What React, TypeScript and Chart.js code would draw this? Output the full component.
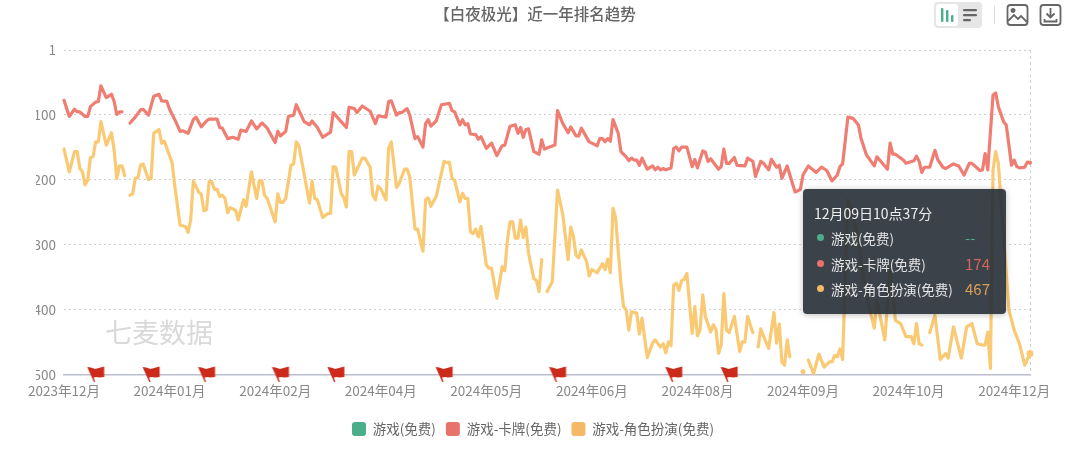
import React, { useEffect, useRef } from 'react';
import { Chart, registerables } from 'chart.js';

Chart.register(...registerables);

const FONT = '"Noto Sans CJK SC", "Noto Sans", sans-serif';

const chartTitle = '【白夜极光】近一年排名趋势';
const seriesNames = ['游戏(免费)', '游戏-卡牌(免费)', '游戏-角色扮演(免费)'];
const seriesColors = ['#4bae8a', '#ef7d72', '#fac973'];
const legendColors = ['#4bae8a', '#e8736a', '#f4b866'];

const rankTicks = [1, 100, 200, 300, 400, 500];
const dayTicks = [0, 40, 80, 120, 160, 200, 240, 280, 320, 360];
const dayTickLabels = ['2023年12月', '2024年01月', '2024年02月', '2024年04月', '2024年05月', '2024年06月', '2024年08月', '2024年09月', '2024年10月', '2024年12月'];
const lastDay = 366;

// days since 2023-12-09 that carry a release flag
const flagDays = [12, 33, 54, 82, 103, 144, 187, 231, 252];

// [day, rank], null rank = no data that day
const gameRanks: [number, number | null][] = [];

const cardRanks: [number, number | null][] = [
  [0, 78], [2, 103], [4, 92], [5, 96], [6, 96], [8, 103], [9, 103], [10, 88], [12, 81], [13, 80], [14, 56], [16, 74], [18, 69], [19, 80], [20, 100], [21, 96], [22, 96], [23, null],
  [25, 113], [27, 104], [29, 93], [30, 92], [32, 101], [34, 72], [36, 69], [37, 79], [39, 80], [40, 92], [42, 108], [44, 126], [45, 125], [47, 129], [49, 108], [50, 104], [52, 119], [54, 110], [55, 107], [58, 107], [59, 120], [60, 121], [62, 137],
  [64, 135], [66, 138], [67, 124], [69, 126], [71, 110], [73, 122], [75, 113], [77, 121], [80, 143], [81, 126], [82, 133], [84, 126], [85, 103], [87, 101], [88, 85], [91, 111], [93, 116], [94, 110], [96, 120], [98, 135], [101, 127], [102, 97], [105, 111], [107, 120], [108, 89], [110, 91], [111, 97], [113, 87], [116, 95], [118, 114], [119, 102], [122, 104], [123, 80], [124, 79],
  [126, 101], [127, 97], [128, 97], [130, 91], [131, 101], [133, 137], [134, 134], [136, 150], [137, 114], [138, 108], [139, 118], [141, 110], [143, 85], [146, 83], [147, 94], [148, 96], [150, 116], [151, 108], [152, 116], [153, 114], [154, 130], [156, 131], [157, 138], [158, 134], [160, 152], [162, 144], [164, 163], [166, 148], [167, 147], [169, 118], [171, 116], [172, 129], [173, 120], [174, 135], [175, 123], [176, 122], [178, 157], [180, 161], [181, 139], [182, 153], [184, 150], [186, 147], [187, 94],
  [189, 114], [191, 128], [192, 119], [194, 133], [195, 133], [196, 121], [199, 142], [200, 144], [202, 148], [203, 137], [204, 137], [205, 142], [206, 137], [207, 141], [208, 108], [210, 129], [211, 157], [213, 165], [214, 171], [215, 167], [216, 170], [217, 170], [218, 178], [219, 167], [221, 184], [223, 179], [224, 185], [225, 181], [226, 185], [227, 183], [228, 185], [230, 182], [231, 152], [232, 150], [233, 156], [234, 150], [236, 150], [238, 180], [239, 169], [240, 182], [242, 156], [243, 158], [244, 172], [245, 168], [248, 184], [249, 180], [250, 153],
  [251, 175], [252, 175], [254, 166], [255, 178], [258, 179], [259, 167], [261, 172], [262, 195], [264, 172], [265, 175], [267, 185], [268, 169], [270, 181], [271, 178], [272, 198], [274, 179], [277, 219], [279, 215], [280, 193], [282, 179], [285, 189], [287, 181], [289, 186], [291, 202], [293, 193], [294, 180], [295, 176], [297, 104], [299, 106], [301, 116], [302, 137], [304, 162], [307, 179], [308, 165], [312, 184], [313, 144], [314, 161], [315, 161], [318, 170], [319, 175], [322, 171], [323, 164], [324, 172], [325, 189], [326, 181], [328, 181], [330, 155], [331, 169], [333, 181], [334, 183], [337, 176], [339, 179], [341, 193], [343, 175], [344, 175], [347, 186], [348, 185], [349, 160], [350, 185], [352, 70], [353, 67], [354, 88], [356, 111], [357, 116], [359, 178], [360, 170], [361, 180], [362, 182], [364, 181], [365, 173], [366, 174],
];

const rpgRanks: [number, number | null][] = [
  [0, 153], [2, 188], [4, 157], [5, 157], [6, 183], [7, 188], [8, 208], [9, 201], [10, 166], [11, 165], [12, 142], [13, 142], [14, 111], [16, 147], [18, 128], [19, 155], [20, 198], [21, 179], [22, 179], [23, 194], [24, null],
  [25, 224], [26, 222], [27, 198], [28, 197], [29, 178], [30, 176], [32, 200], [33, 198], [34, 129], [36, 123], [37, 144], [38, 141], [39, 152], [41, 175], [42, 211], [44, 270], [46, 272], [47, 281], [48, 262], [49, 202], [51, 219], [52, 222], [53, 248], [54, 246], [55, 203], [56, 203], [57, 215], [58, 215], [59, 226], [60, 224], [61, 229], [62, 251],
  [63, 243], [65, 247], [66, 262], [68, 231], [69, 241], [71, 188], [73, 229], [74, 202], [75, 202], [76, 224], [77, 229], [80, 265], [81, 222], [82, 235], [83, 235], [84, 229], [86, 178], [87, 176], [88, 142], [89, 148], [93, 236], [94, 202], [95, 229], [96, 231], [98, 258], [100, 252], [101, 252], [102, 180], [103, 181], [105, 221], [106, 228], [107, 242], [108, 157], [109, 157], [110, 193], [113, 167], [114, 167], [116, 181], [117, 224], [118, 231], [119, 210], [120, 214], [122, 231], [123, 152], [124, 142],
  [126, 212], [127, 206], [129, 184], [130, 184], [131, 196], [133, 276], [134, 276], [136, 310], [137, 231], [138, 228], [139, 241], [141, 226], [144, 172], [145, 174], [146, 173], [147, 198], [148, 201], [150, 234], [151, 221], [152, 229], [153, 229], [154, 280], [155, 283], [156, 276], [157, 288], [158, 272], [160, 331], [161, 336], [162, 336], [164, 382], [166, 334], [167, 340], [168, 293], [169, 265], [170, 265], [171, 290], [172, 290], [173, 262], [174, 289], [175, 273], [176, 313], [178, 352], [179, 355], [180, 372], [181, 323], [182, null],
  [183, 372], [185, 357], [187, 216], [189, 254], [191, 323], [192, 273], [193, 287], [194, 316], [195, 320], [196, 308], [198, 326], [199, 348], [200, 338], [202, 343], [204, 329], [205, 338], [206, 322], [207, 343], [208, 244], [209, 259], [211, 359], [212, 395], [213, 400], [214, 431], [215, 403], [217, 405], [218, 437], [219, 413], [221, 473], [223, 451], [224, 446], [226, 457], [227, 452], [228, 466], [229, 449], [230, 455], [231, 362], [232, 359], [233, 370], [234, 355], [235, 353], [236, 344], [238, 436], [239, 395], [240, 440], [241, 431], [242, 377], [243, 410], [245, 434], [246, 423], [247, 430], [248, 467], [249, 454], [250, 375],
  [251, 431], [252, 435], [254, 410], [256, 464], [257, 449], [258, 449], [259, 410], [261, 435], [262, null], [263, 457], [264, 429], [265, 440], [267, 459], [269, 404], [270, 451], [271, 422], [272, 480], [273, 485], [274, 446], [275, 472], [276, null], [280, 495], [281, null], [282, 477], [284, 498], [286, 468], [288, 488], [290, 480], [291, 480], [292, 470], [293, 472], [294, 460], [295, 476],
  [297, 231], [299, 257], [301, 293], [302, 328], [305, 395], [307, 428], [308, 385], [311, 446], [313, 336], [315, 416], [317, 421], [319, 441], [321, 441], [322, 452], [323, 421], [324, 452], [325, 454], [326, null], [328, 435], [330, 408], [332, 476], [334, 467], [335, 474], [337, 426], [340, 474], [342, 426], [344, 421], [346, 452], [348, 454], [349, 454], [350, 434], [351, 490], [352, 185], [353, 157], [354, 175], [356, 288], [358, 400], [360, 431], [362, 452], [364, 485], [366, 467],
];

// tooltip shown for the last day
const tipTitle = '12月09日10点37分';
const tipValues = ['--', '174', '467'];
const tipValueColors = ['#4bae8a', '#d4655c', '#d99f55'];

function makeFlag() {
  const c = document.createElement('canvas');
  c.width = 20;
  c.height = 20;
  const g = c.getContext('2d')!;
  g.fillStyle = '#cc2a1a';
  g.beginPath();
  g.moveTo(1.5, 2);
  g.lineTo(5, 2.5);
  g.lineTo(9.5, 4);
  g.lineTo(13, 3);
  g.lineTo(18.5, 1.5);
  g.lineTo(18.5, 12);
  g.lineTo(14, 12.5);
  g.lineTo(10.5, 12);
  g.lineTo(8, 12.5);
  g.lineTo(9.5, 17);
  g.lineTo(8.2, 17);
  g.lineTo(5.5, 11);
  g.closePath();
  g.fill();
  return c;
}

// lone days need a dot or they vanish, the hovered last day gets a marker
const markerRadius = (rows: [number, number | null][], last: number) => (ctx: any) => {
  const i = ctx.dataIndex;
  if (i === rows.length - 1) return last;
  const before = rows[i - 1];
  const after = rows[i + 1];
  return before && after && before[1] === null && after[1] === null ? 2.5 : 0;
};

const lineDataset = (idx: number, rows: [number, number | null][], last: number) => ({
  label: seriesNames[idx],
  data: rows.map(([x, y]) => ({ x, y })),
  borderColor: seriesColors[idx],
  backgroundColor: legendColors[idx],
  pointBackgroundColor: seriesColors[idx],
  pointBorderWidth: 0,
  borderWidth: 3.2,
  tension: 0,
  spanGaps: false,
  borderJoinStyle: 'round' as const,
  borderCapStyle: 'round' as const,
  pointRadius: markerRadius(rows, last),
  clip: false as const,
  order: 4 - idx,
});

const Toolbar = () => (
  <svg width="140" height="30" viewBox="0 0 140 30" style={{ position: 'absolute', left: 930, top: 0 }}>
    <rect x="4" y="2" width="48" height="26" rx="4" fill="#e6e6e6" />
    <rect x="6" y="4" width="22" height="22" rx="3" fill="#fff" />
    <g fill="#4bae8a">
      <rect x="11" y="8" width="2.4" height="14" rx="1" />
      <rect x="16" y="10" width="2.4" height="12" rx="1" />
      <rect x="21" y="15" width="2.4" height="7" rx="1" />
    </g>
    <g fill="#666">
      <rect x="33" y="9" width="14" height="2.2" rx="1" />
      <rect x="33" y="14" width="14" height="2.2" rx="1" />
      <rect x="33" y="19" width="8" height="2.2" rx="1" />
    </g>
    <line x1="64.5" y1="6" x2="64.5" y2="24" stroke="#ddd" />
    <g fill="none" stroke="#666" strokeWidth="1.8">
      <rect x="77.5" y="5" width="20" height="20" rx="3" />
      <path d="M78 21l6-6 4 4 3-3 6 6" />
      <circle cx="83" cy="10.5" r="1.6" fill="#666" />
      <rect x="110.5" y="5" width="20" height="20" rx="3" />
      <path d="M120.5 8v9M116.5 13.5l4 4 4-4M114.5 19v2.5h12V19" />
    </g>
  </svg>
);

const Tip = () => (
  <div
    style={{
      position: 'absolute',
      left: 803,
      top: 189,
      width: 203,
      height: 125,
      borderRadius: 4,
      background: 'rgba(38,46,54,0.9)',
      boxShadow: '0 1px 6px rgba(0,0,0,0.25)',
      color: '#e4e4e4',
      fontSize: 13.5,
    }}
  >
    <div style={{ position: 'absolute', left: 11, top: 14, fontSize: 14, lineHeight: '20px', whiteSpace: 'nowrap', color: '#eee' }}>{tipTitle}</div>
    {seriesNames.map((name, i) => (
      <div key={name} style={{ position: 'absolute', left: 0, top: 39 + i * 25.5, width: '100%', height: 20, lineHeight: '20px', whiteSpace: 'nowrap' }}>
        <span style={{ position: 'absolute', left: 14, top: 6, width: 7, height: 7, borderRadius: '50%', background: legendColors[i] }} />
        <span style={{ position: 'absolute', left: 28 }}>{name}</span>
        <span style={{ position: 'absolute', left: 162, fontSize: 15, color: tipValueColors[i] }}>{tipValues[i]}</span>
      </div>
    ))}
  </div>
);

export default function App() {
  const ref = useRef<HTMLCanvasElement>(null);

  useEffect(() => {
    if (!ref.current) return;

    const chart = new Chart(ref.current, {
      type: 'line',
      data: {
        datasets: [
          lineDataset(0, gameRanks, 0),
          lineDataset(1, cardRanks, 2),
          lineDataset(2, rpgRanks, 3.5),
          {
            label: 'flags',
            data: flagDays.map((x) => ({ x, y: 500 })),
            showLine: false,
            pointStyle: makeFlag(),
            pointRadius: 5,
            clip: false,
            order: 0,
          } as any,
        ],
      },
      options: {
        responsive: false,
        animation: false,
        events: [],
        layout: { padding: { left: 36, right: 50, top: 50, bottom: 3 } },
        plugins: {
          title: { display: false },
          tooltip: { enabled: false },
          legend: {
            position: 'bottom',
            labels: {
              boxWidth: 14,
              boxHeight: 14,
              useBorderRadius: true,
              borderRadius: 3,
              padding: 10,
              color: '#666',
              font: { family: FONT, size: 13.5 },
              generateLabels: () =>
                seriesNames.map((text, i) => ({
                  text,
                  fillStyle: legendColors[i],
                  strokeStyle: legendColors[i],
                  lineWidth: 0,
                  fontColor: '#666',
                  borderRadius: 3,
                  datasetIndex: i,
                })),
            },
          },
        },
        scales: {
          x: {
            type: 'linear',
            min: 0,
            max: lastDay,
            afterBuildTicks: (s) => {
              s.ticks = [...dayTicks, lastDay].map((value) => ({ value }));
            },
            afterFit: (s) => {
              s.height = 37;
            },
            ticks: {
              autoSkip: false,
              maxRotation: 0,
              padding: 8,
              color: '#888',
              font: { family: FONT, size: 13.5 },
              callback: (v) => {
                const i = dayTicks.indexOf(Number(v));
                return i >= 0 ? dayTickLabels[i] : '';
              },
            },
            grid: {
              drawTicks: false,
              color: (ctx) => (ctx.tick && ctx.tick.value === lastDay ? '#cfcfcf' : 'rgba(0,0,0,0)'),
            },
            border: { color: '#b9bdcc', width: 1.5, dash: [3, 3] },
          },
          y: {
            type: 'linear',
            reverse: true,
            min: 1,
            max: 500,
            afterBuildTicks: (s) => {
              s.ticks = rankTicks.map((value) => ({ value }));
            },
            afterFit: (s) => {
              s.width = 28;
            },
            ticks: {
              padding: 8,
              color: '#888',
              font: { family: FONT, size: 13.5 },
            },
            grid: {
              drawTicks: false,
              color: (ctx) => (ctx.tick && ctx.tick.value === 500 ? 'rgba(0,0,0,0)' : '#cfcfcf'),
            },
            border: { display: false, dash: [2, 3] },
          },
        },
      },
    });

    return () => chart.destroy();
  }, []);

  return (
    <div style={{ position: 'fixed', left: 0, top: 0, width: 1080, height: 449, background: '#fff', overflow: 'hidden', fontFamily: FONT }}>
      <canvas ref={ref} width={1080} height={449} style={{ display: 'block' }} />
      <div style={{ position: 'absolute', left: 0, top: 2, width: 1070, textAlign: 'center', fontSize: 15.5, lineHeight: '22px', color: '#666', fontWeight: 500 }}>{chartTitle}</div>
      <div style={{ position: 'absolute', left: 105, top: 314, fontSize: 27, lineHeight: '36px', color: '#d9d9d9', whiteSpace: 'nowrap' }}>七麦数据</div>
      <Toolbar />
      <Tip />
    </div>
  );
}
